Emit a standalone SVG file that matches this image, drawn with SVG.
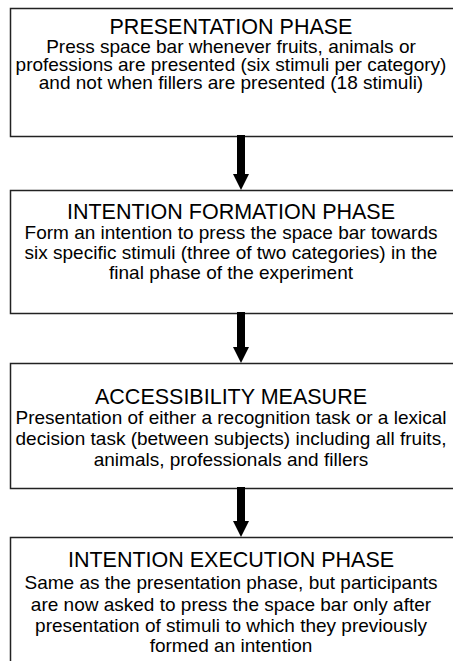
<svg xmlns="http://www.w3.org/2000/svg" width="453" height="661" viewBox="0 0 453 661">
<style>
  .box { fill: #ffffff; stroke: #222222; stroke-width: 1.5; }
  .title { font-family: "Liberation Sans", Arial, sans-serif; font-size: 21.5px; fill: #000; text-anchor: middle; }
  .body { font-family: "Liberation Sans", Arial, sans-serif; font-size: 19px; fill: #000; text-anchor: middle; }
  .arrow { fill: #000; stroke: none; }
</style>
<rect x="0" y="0" width="453" height="661" fill="#ffffff"/>
<g id="node-presentation">
  <rect class="box" x="10.5" y="8.5" width="460" height="128"/>
  <text class="title" x="231" y="34">PRESENTATION PHASE</text>
  <text class="body" x="231" y="53">Press space bar whenever fruits, animals or</text>
  <text class="body" x="231" y="71">professions are presented (six stimuli per category)</text>
  <text class="body" x="231" y="89">and not when fillers are presented (18 stimuli)</text>
</g>
<g id="node-intention-formation">
  <rect class="box" x="10.5" y="190.5" width="460" height="123"/>
  <text class="title" x="231" y="219">INTENTION FORMATION PHASE</text>
  <text class="body" x="231" y="239">Form an intention to press the space bar towards</text>
  <text class="body" x="231" y="259">six specific stimuli (three of two categories) in the</text>
  <text class="body" x="231" y="279">final phase of the experiment</text>
</g>
<g id="node-accessibility">
  <rect class="box" x="10.5" y="363.5" width="460" height="125"/>
  <text class="title" x="231" y="404">ACCESSIBILITY MEASURE</text>
  <text class="body" x="231" y="424">Presentation of either a recognition task or a lexical</text>
  <text class="body" x="231" y="445">decision task (between subjects) including all fruits,</text>
  <text class="body" x="231" y="466">animals, professionals and fillers</text>
</g>
<g id="node-intention-execution">
  <rect class="box" x="10.5" y="537.5" width="460" height="140"/>
  <text class="title" x="231" y="567">INTENTION EXECUTION PHASE</text>
  <text class="body" x="231" y="589">Same as the presentation phase, but participants</text>
  <text class="body" x="231" y="611">are now asked to press the space bar only after</text>
  <text class="body" x="231" y="632">presentation of stimuli to which they previously</text>
  <text class="body" x="231" y="652">formed an intention</text>
</g>
<g id="connectors">
  <path class="arrow" d="M237,135 H245 V174 H249 L241,190 L233,174 H237 Z"/>
  <path class="arrow" d="M237,312 H245 V347 H249 L241,363 L233,347 H237 Z"/>
  <path class="arrow" d="M237,487 H245 V521 H249 L241,537 L233,521 H237 Z"/>
</g>
</svg>
